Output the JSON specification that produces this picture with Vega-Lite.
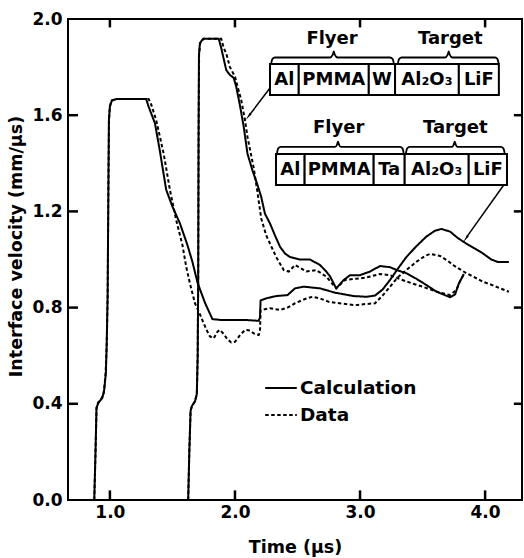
{
  "$schema": "https://vega.github.io/schema/vega-lite/v6.json",
  "width": 454,
  "height": 481,
  "autosize": {"type": "none"},
  "padding": {"left": 68, "top": 19, "right": 2, "bottom": 58},
  "config": {
    "font": "DejaVu Sans",
    "view": {"stroke": "black", "strokeWidth": 2},
    "axis": {"labelFont": "DejaVu Sans", "labelFontSize": 17, "labelFontWeight": "bold", "labelColor": "black", "domain": false, "grid": false, "titleFont": "DejaVu Sans", "titleFontSize": 17.5, "titleFontWeight": "bold", "titleColor": "black"},
    "legend": {"labelFont": "DejaVu Sans", "labelFontSize": 18.5, "labelFontWeight": "bold", "labelColor": "black"}
  },
  "datasets": {
    "curves": [
      {"s":"Ta","k":"Calculation","t":0.875,"v":0},{"s":"Ta","k":"Calculation","t":0.885,"v":0.2},{"s":"Ta","k":"Calculation","t":0.893,"v":0.385},{"s":"Ta","k":"Calculation","t":0.91,"v":0.405},{"s":"Ta","k":"Calculation","t":0.94,"v":0.425},{"s":"Ta","k":"Calculation","t":0.955,"v":0.46},{"s":"Ta","k":"Calculation","t":0.968,"v":0.53},{"s":"Ta","k":"Calculation","t":0.974,"v":0.64},{"s":"Ta","k":"Calculation","t":0.982,"v":0.85},{"s":"Ta","k":"Calculation","t":0.988,"v":1.3},{"s":"Ta","k":"Calculation","t":0.992,"v":1.58},{"s":"Ta","k":"Calculation","t":1.0,"v":1.635},{"s":"Ta","k":"Calculation","t":1.015,"v":1.66},{"s":"Ta","k":"Calculation","t":1.05,"v":1.667},{"s":"Ta","k":"Calculation","t":1.29,"v":1.667},{"s":"Ta","k":"Calculation","t":1.31,"v":1.635},{"s":"Ta","k":"Calculation","t":1.36,"v":1.567},{"s":"Ta","k":"Calculation","t":1.4,"v":1.45},{"s":"Ta","k":"Calculation","t":1.45,"v":1.29},{"s":"Ta","k":"Calculation","t":1.5,"v":1.22},{"s":"Ta","k":"Calculation","t":1.56,"v":1.15},{"s":"Ta","k":"Calculation","t":1.62,"v":1.06},{"s":"Ta","k":"Calculation","t":1.66,"v":0.99},{"s":"Ta","k":"Calculation","t":1.7,"v":0.905},{"s":"Ta","k":"Calculation","t":1.76,"v":0.82},{"s":"Ta","k":"Calculation","t":1.82,"v":0.752},{"s":"Ta","k":"Calculation","t":1.9,"v":0.748},{"s":"Ta","k":"Calculation","t":2.1,"v":0.748},{"s":"Ta","k":"Calculation","t":2.19,"v":0.745},{"s":"Ta","k":"Calculation","t":2.2,"v":0.76},{"s":"Ta","k":"Calculation","t":2.205,"v":0.83},{"s":"Ta","k":"Calculation","t":2.26,"v":0.84},{"s":"Ta","k":"Calculation","t":2.33,"v":0.848},{"s":"Ta","k":"Calculation","t":2.42,"v":0.852},{"s":"Ta","k":"Calculation","t":2.48,"v":0.88},{"s":"Ta","k":"Calculation","t":2.55,"v":0.887},{"s":"Ta","k":"Calculation","t":2.68,"v":0.88},{"s":"Ta","k":"Calculation","t":2.8,"v":0.862},{"s":"Ta","k":"Calculation","t":2.95,"v":0.848},{"s":"Ta","k":"Calculation","t":3.05,"v":0.845},{"s":"Ta","k":"Calculation","t":3.12,"v":0.85},{"s":"Ta","k":"Calculation","t":3.18,"v":0.875},{"s":"Ta","k":"Calculation","t":3.24,"v":0.915},{"s":"Ta","k":"Calculation","t":3.3,"v":0.96},{"s":"Ta","k":"Calculation","t":3.37,"v":1.01},{"s":"Ta","k":"Calculation","t":3.45,"v":1.055},{"s":"Ta","k":"Calculation","t":3.53,"v":1.095},{"s":"Ta","k":"Calculation","t":3.6,"v":1.12},{"s":"Ta","k":"Calculation","t":3.65,"v":1.127},{"s":"Ta","k":"Calculation","t":3.72,"v":1.116},{"s":"Ta","k":"Calculation","t":3.78,"v":1.09},{"s":"Ta","k":"Calculation","t":3.85,"v":1.066},{"s":"Ta","k":"Calculation","t":3.92,"v":1.045},{"s":"Ta","k":"Calculation","t":3.98,"v":1.026},{"s":"Ta","k":"Calculation","t":4.05,"v":1.0},{"s":"Ta","k":"Calculation","t":4.1,"v":0.99},{"s":"Ta","k":"Calculation","t":4.19,"v":0.99},

      {"s":"Ta","k":"Data","t":0.875,"v":0},{"s":"Ta","k":"Data","t":0.885,"v":0.2},{"s":"Ta","k":"Data","t":0.893,"v":0.38},{"s":"Ta","k":"Data","t":0.905,"v":0.405},{"s":"Ta","k":"Data","t":0.925,"v":0.415},{"s":"Ta","k":"Data","t":0.95,"v":0.44},{"s":"Ta","k":"Data","t":0.965,"v":0.52},{"s":"Ta","k":"Data","t":0.975,"v":0.65},{"s":"Ta","k":"Data","t":0.982,"v":0.85},{"s":"Ta","k":"Data","t":0.988,"v":1.3},{"s":"Ta","k":"Data","t":0.993,"v":1.58},{"s":"Ta","k":"Data","t":1.0,"v":1.64},{"s":"Ta","k":"Data","t":1.015,"v":1.662},{"s":"Ta","k":"Data","t":1.05,"v":1.667},{"s":"Ta","k":"Data","t":1.31,"v":1.667},{"s":"Ta","k":"Data","t":1.33,"v":1.645},{"s":"Ta","k":"Data","t":1.37,"v":1.58},{"s":"Ta","k":"Data","t":1.43,"v":1.44},{"s":"Ta","k":"Data","t":1.48,"v":1.289},{"s":"Ta","k":"Data","t":1.53,"v":1.164},{"s":"Ta","k":"Data","t":1.58,"v":1.06},{"s":"Ta","k":"Data","t":1.61,"v":0.97},{"s":"Ta","k":"Data","t":1.64,"v":0.9},{"s":"Ta","k":"Data","t":1.68,"v":0.818},{"s":"Ta","k":"Data","t":1.72,"v":0.772},{"s":"Ta","k":"Data","t":1.77,"v":0.71},{"s":"Ta","k":"Data","t":1.8,"v":0.68},{"s":"Ta","k":"Data","t":1.83,"v":0.672},{"s":"Ta","k":"Data","t":1.86,"v":0.7},{"s":"Ta","k":"Data","t":1.88,"v":0.707},{"s":"Ta","k":"Data","t":1.91,"v":0.69},{"s":"Ta","k":"Data","t":1.94,"v":0.668},{"s":"Ta","k":"Data","t":1.97,"v":0.655},{"s":"Ta","k":"Data","t":2.0,"v":0.658},{"s":"Ta","k":"Data","t":2.04,"v":0.685},{"s":"Ta","k":"Data","t":2.08,"v":0.707},{"s":"Ta","k":"Data","t":2.12,"v":0.705},{"s":"Ta","k":"Data","t":2.15,"v":0.693},{"s":"Ta","k":"Data","t":2.19,"v":0.686},{"s":"Ta","k":"Data","t":2.2,"v":0.7},{"s":"Ta","k":"Data","t":2.205,"v":0.79},{"s":"Ta","k":"Data","t":2.28,"v":0.797},{"s":"Ta","k":"Data","t":2.36,"v":0.79},{"s":"Ta","k":"Data","t":2.42,"v":0.8},{"s":"Ta","k":"Data","t":2.48,"v":0.818},{"s":"Ta","k":"Data","t":2.57,"v":0.838},{"s":"Ta","k":"Data","t":2.62,"v":0.845},{"s":"Ta","k":"Data","t":2.68,"v":0.838},{"s":"Ta","k":"Data","t":2.75,"v":0.824},{"s":"Ta","k":"Data","t":2.85,"v":0.817},{"s":"Ta","k":"Data","t":2.96,"v":0.81},{"s":"Ta","k":"Data","t":3.05,"v":0.815},{"s":"Ta","k":"Data","t":3.12,"v":0.818},{"s":"Ta","k":"Data","t":3.18,"v":0.85},{"s":"Ta","k":"Data","t":3.24,"v":0.887},{"s":"Ta","k":"Data","t":3.3,"v":0.925},{"s":"Ta","k":"Data","t":3.37,"v":0.956},{"s":"Ta","k":"Data","t":3.45,"v":0.99},{"s":"Ta","k":"Data","t":3.52,"v":1.015},{"s":"Ta","k":"Data","t":3.56,"v":1.023},{"s":"Ta","k":"Data","t":3.64,"v":1.015},{"s":"Ta","k":"Data","t":3.7,"v":0.995},{"s":"Ta","k":"Data","t":3.75,"v":0.975},{"s":"Ta","k":"Data","t":3.85,"v":0.943},{"s":"Ta","k":"Data","t":3.92,"v":0.925},{"s":"Ta","k":"Data","t":3.98,"v":0.908},{"s":"Ta","k":"Data","t":4.05,"v":0.895},{"s":"Ta","k":"Data","t":4.12,"v":0.88},{"s":"Ta","k":"Data","t":4.19,"v":0.866},

      {"s":"W","k":"Calculation","t":1.626,"v":0},{"s":"W","k":"Calculation","t":1.635,"v":0.2},{"s":"W","k":"Calculation","t":1.645,"v":0.37},{"s":"W","k":"Calculation","t":1.655,"v":0.39},{"s":"W","k":"Calculation","t":1.68,"v":0.41},{"s":"W","k":"Calculation","t":1.695,"v":0.44},{"s":"W","k":"Calculation","t":1.702,"v":0.6},{"s":"W","k":"Calculation","t":1.706,"v":0.915},{"s":"W","k":"Calculation","t":1.709,"v":1.5},{"s":"W","k":"Calculation","t":1.712,"v":1.85},{"s":"W","k":"Calculation","t":1.72,"v":1.9},{"s":"W","k":"Calculation","t":1.746,"v":1.918},{"s":"W","k":"Calculation","t":1.87,"v":1.918},{"s":"W","k":"Calculation","t":1.89,"v":1.88},{"s":"W","k":"Calculation","t":1.906,"v":1.843},{"s":"W","k":"Calculation","t":1.93,"v":1.788},{"s":"W","k":"Calculation","t":1.96,"v":1.767},{"s":"W","k":"Calculation","t":1.99,"v":1.755},{"s":"W","k":"Calculation","t":2.01,"v":1.719},{"s":"W","k":"Calculation","t":2.04,"v":1.64},{"s":"W","k":"Calculation","t":2.07,"v":1.552},{"s":"W","k":"Calculation","t":2.1,"v":1.44},{"s":"W","k":"Calculation","t":2.14,"v":1.37},{"s":"W","k":"Calculation","t":2.18,"v":1.31},{"s":"W","k":"Calculation","t":2.21,"v":1.26},{"s":"W","k":"Calculation","t":2.24,"v":1.19},{"s":"W","k":"Calculation","t":2.28,"v":1.15},{"s":"W","k":"Calculation","t":2.32,"v":1.1},{"s":"W","k":"Calculation","t":2.36,"v":1.053},{"s":"W","k":"Calculation","t":2.4,"v":1.025},{"s":"W","k":"Calculation","t":2.44,"v":1.01},{"s":"W","k":"Calculation","t":2.52,"v":1.0},{"s":"W","k":"Calculation","t":2.6,"v":1.0},{"s":"W","k":"Calculation","t":2.68,"v":0.977},{"s":"W","k":"Calculation","t":2.73,"v":0.95},{"s":"W","k":"Calculation","t":2.76,"v":0.93},{"s":"W","k":"Calculation","t":2.81,"v":0.88},{"s":"W","k":"Calculation","t":2.87,"v":0.915},{"s":"W","k":"Calculation","t":2.92,"v":0.935},{"s":"W","k":"Calculation","t":3.0,"v":0.935},{"s":"W","k":"Calculation","t":3.08,"v":0.95},{"s":"W","k":"Calculation","t":3.16,"v":0.973},{"s":"W","k":"Calculation","t":3.24,"v":0.968},{"s":"W","k":"Calculation","t":3.3,"v":0.955},{"s":"W","k":"Calculation","t":3.37,"v":0.943},{"s":"W","k":"Calculation","t":3.45,"v":0.92},{"s":"W","k":"Calculation","t":3.53,"v":0.894},{"s":"W","k":"Calculation","t":3.6,"v":0.87},{"s":"W","k":"Calculation","t":3.64,"v":0.86},{"s":"W","k":"Calculation","t":3.72,"v":0.843},{"s":"W","k":"Calculation","t":3.76,"v":0.855},{"s":"W","k":"Calculation","t":3.79,"v":0.9},{"s":"W","k":"Calculation","t":3.83,"v":0.94},

      {"s":"W","k":"Data","t":1.626,"v":0},{"s":"W","k":"Data","t":1.635,"v":0.2},{"s":"W","k":"Data","t":1.645,"v":0.37},{"s":"W","k":"Data","t":1.655,"v":0.39},{"s":"W","k":"Data","t":1.68,"v":0.41},{"s":"W","k":"Data","t":1.695,"v":0.44},{"s":"W","k":"Data","t":1.702,"v":0.6},{"s":"W","k":"Data","t":1.706,"v":0.915},{"s":"W","k":"Data","t":1.709,"v":1.5},{"s":"W","k":"Data","t":1.713,"v":1.85},{"s":"W","k":"Data","t":1.722,"v":1.9},{"s":"W","k":"Data","t":1.75,"v":1.918},{"s":"W","k":"Data","t":1.89,"v":1.918},{"s":"W","k":"Data","t":1.91,"v":1.88},{"s":"W","k":"Data","t":1.93,"v":1.857},{"s":"W","k":"Data","t":1.96,"v":1.8},{"s":"W","k":"Data","t":2.0,"v":1.76},{"s":"W","k":"Data","t":2.05,"v":1.663},{"s":"W","k":"Data","t":2.08,"v":1.58},{"s":"W","k":"Data","t":2.1,"v":1.51},{"s":"W","k":"Data","t":2.15,"v":1.38},{"s":"W","k":"Data","t":2.18,"v":1.28},{"s":"W","k":"Data","t":2.21,"v":1.17},{"s":"W","k":"Data","t":2.25,"v":1.1},{"s":"W","k":"Data","t":2.33,"v":1.01},{"s":"W","k":"Data","t":2.39,"v":0.956},{"s":"W","k":"Data","t":2.43,"v":0.95},{"s":"W","k":"Data","t":2.48,"v":0.977},{"s":"W","k":"Data","t":2.52,"v":0.965},{"s":"W","k":"Data","t":2.57,"v":0.95},{"s":"W","k":"Data","t":2.65,"v":0.956},{"s":"W","k":"Data","t":2.73,"v":0.929},{"s":"W","k":"Data","t":2.81,"v":0.88},{"s":"W","k":"Data","t":2.88,"v":0.915},{"s":"W","k":"Data","t":2.97,"v":0.92},{"s":"W","k":"Data","t":3.05,"v":0.925},{"s":"W","k":"Data","t":3.16,"v":0.94},{"s":"W","k":"Data","t":3.24,"v":0.935},{"s":"W","k":"Data","t":3.32,"v":0.918},{"s":"W","k":"Data","t":3.42,"v":0.9},{"s":"W","k":"Data","t":3.5,"v":0.887},{"s":"W","k":"Data","t":3.62,"v":0.865},{"s":"W","k":"Data","t":3.72,"v":0.852},{"s":"W","k":"Data","t":3.77,"v":0.873},{"s":"W","k":"Data","t":3.8,"v":0.91},{"s":"W","k":"Data","t":3.83,"v":0.938}
    ],
    "boxes": [
      {"t":2.28,"t2":2.51,"v":1.684,"v2":1.813},{"t":2.51,"t2":3.07,"v":1.684,"v2":1.813},{"t":3.07,"t2":3.28,"v":1.684,"v2":1.813},{"t":3.28,"t2":3.79,"v":1.684,"v2":1.813},{"t":3.79,"t2":4.11,"v":1.684,"v2":1.813},
      {"t":2.328,"t2":2.557,"v":1.31,"v2":1.439},{"t":2.557,"t2":3.109,"v":1.31,"v2":1.439},{"t":3.109,"t2":3.357,"v":1.31,"v2":1.439},{"t":3.357,"t2":3.869,"v":1.31,"v2":1.439},{"t":3.869,"t2":4.175,"v":1.31,"v2":1.439}
    ],
    "labels": [
      {"label":"Al","t":2.395,"v":1.748},{"label":"PMMA","t":2.79,"v":1.748},{"label":"W","t":3.175,"v":1.748},{"label":"Al₂O₃","t":3.535,"v":1.748},{"label":"LiF","t":3.95,"v":1.748},
      {"label":"Flyer","t":2.776,"v":1.916},{"label":"Target","t":3.722,"v":1.916},
      {"label":"Al","t":2.443,"v":1.374},{"label":"PMMA","t":2.833,"v":1.374},{"label":"Ta","t":3.233,"v":1.374},{"label":"Al₂O₃","t":3.613,"v":1.374},{"label":"LiF","t":4.022,"v":1.374},
      {"label":"Flyer","t":2.829,"v":1.547},{"label":"Target","t":3.762,"v":1.547}
    ],
    "braces": [
      {"b":"1","t":2.29,"v":1.817},{"b":"1","t":2.30,"v":1.834},{"b":"1","t":2.32,"v":1.84},{"b":"1","t":2.76,"v":1.84},{"b":"1","t":2.782,"v":1.852},{"b":"1","t":2.79,"v":1.865},{"b":"1","t":2.798,"v":1.852},{"b":"1","t":2.82,"v":1.84},{"b":"1","t":3.24,"v":1.84},{"b":"1","t":3.26,"v":1.834},{"b":"1","t":3.27,"v":1.817},
      {"b":"2","t":3.303,"v":1.817},{"b":"2","t":3.313,"v":1.834},{"b":"2","t":3.333,"v":1.84},{"b":"2","t":3.68,"v":1.84},{"b":"2","t":3.701,"v":1.852},{"b":"2","t":3.709,"v":1.865},{"b":"2","t":3.717,"v":1.852},{"b":"2","t":3.738,"v":1.84},{"b":"2","t":4.08,"v":1.84},{"b":"2","t":4.098,"v":1.834},{"b":"2","t":4.108,"v":1.817},
      {"b":"3","t":2.336,"v":1.443},{"b":"3","t":2.346,"v":1.462},{"b":"3","t":2.366,"v":1.468},{"b":"3","t":2.80,"v":1.468},{"b":"3","t":2.816,"v":1.478},{"b":"3","t":2.824,"v":1.49},{"b":"3","t":2.832,"v":1.478},{"b":"3","t":2.848,"v":1.468},{"b":"3","t":3.32,"v":1.468},{"b":"3","t":3.339,"v":1.462},{"b":"3","t":3.349,"v":1.443},
      {"b":"4","t":3.367,"v":1.443},{"b":"4","t":3.377,"v":1.462},{"b":"4","t":3.397,"v":1.468},{"b":"4","t":3.737,"v":1.468},{"b":"4","t":3.749,"v":1.478},{"b":"4","t":3.757,"v":1.49},{"b":"4","t":3.765,"v":1.478},{"b":"4","t":3.777,"v":1.468},{"b":"4","t":4.126,"v":1.468},{"b":"4","t":4.146,"v":1.462},{"b":"4","t":4.156,"v":1.443}
    ],
    "arrows": [
      {"a":"W","t":2.115,"v":1.6},{"a":"W","t":2.28,"v":1.713},
      {"a":"Ta","t":3.855,"v":1.095},{"a":"Ta","t":4.149,"v":1.31}
    ],
    "heads": [
      {"a":"W","t":2.112,"v":1.598,"ang":217},
      {"a":"Ta","t":3.85,"v":1.09,"ang":215}
    ],
    "xticks": [{"t":1},{"t":2},{"t":3},{"t":4}],
    "yticks": [{"v":0.4},{"v":0.8},{"v":1.2},{"v":1.6}]
  },
  "layer": [
    {
      "data": {"name": "xticks"},
      "mark": {"type": "rule", "color": "black", "strokeWidth": 2.5},
      "encoding": {
        "x": {"field": "t", "type": "quantitative", "scale": {"domain": [0.665, 4.295], "nice": false, "zero": false},
              "axis": {"orient": "bottom", "values": [1, 2, 3, 4], "format": ".1f", "ticks": false, "labelPadding": 4, "title": "Time (μs)", "titleX": 227, "titleY": 52, "titleBaseline": "alphabetic", "titleAlign": "center"}},
        "y": {"datum": 0, "type": "quantitative", "scale": {"domain": [0, 2], "nice": false, "zero": false},
              "axis": {"orient": "left", "values": [0, 0.4, 0.8, 1.2, 1.6, 2.0], "format": ".1f", "ticks": false, "labelPadding": 6, "title": "Interface velocity (mm/μs)", "titleX": -52, "titleY": 227, "titleAngle": 270, "titleBaseline": "middle", "titleAlign": "center"}},
        "y2": {"datum": 0.04}
      }
    },
    {
      "data": {"name": "xticks"},
      "mark": {"type": "rule", "color": "black", "strokeWidth": 2.5},
      "encoding": {
        "x": {"field": "t", "type": "quantitative"},
        "y": {"datum": 2, "type": "quantitative"},
        "y2": {"datum": 1.965}
      }
    },
    {
      "data": {"name": "yticks"},
      "mark": {"type": "rule", "color": "black", "strokeWidth": 2.5},
      "encoding": {
        "y": {"field": "v", "type": "quantitative"},
        "x": {"datum": 0.665, "type": "quantitative"},
        "x2": {"datum": 0.745}
      }
    },
    {
      "data": {"name": "yticks"},
      "mark": {"type": "rule", "color": "black", "strokeWidth": 2.5},
      "encoding": {
        "y": {"field": "v", "type": "quantitative"},
        "x": {"datum": 4.295, "type": "quantitative"},
        "x2": {"datum": 4.23}
      }
    },
    {
      "data": {"name": "curves"},
      "mark": {"type": "line", "color": "black", "strokeWidth": 2},
      "encoding": {
        "x": {"field": "t", "type": "quantitative"},
        "y": {"field": "v", "type": "quantitative"},
        "detail": {"field": "s", "type": "nominal"},
        "strokeDash": {"field": "k", "type": "nominal", "title": null,
          "scale": {"domain": ["Calculation", "Data"], "range": [[1, 0], [3.5, 2.5]]},
          "legend": {"orient": "none", "legendX": 196, "legendY": 352, "symbolType": "stroke", "symbolSize": 1000, "symbolStrokeWidth": 2, "symbolStrokeColor": "black", "labelOffset": 2, "rowPadding": -14, "padding": 0}}
      }
    },
    {
      "data": {"name": "boxes"},
      "mark": {"type": "rect", "fill": "white", "stroke": "black", "strokeWidth": 2},
      "encoding": {
        "x": {"field": "t", "type": "quantitative"},
        "x2": {"field": "t2"},
        "y": {"field": "v", "type": "quantitative"},
        "y2": {"field": "v2"}
      }
    },
    {
      "data": {"name": "labels"},
      "mark": {"type": "text", "font": "DejaVu Sans", "fontSize": 18, "fontWeight": "bold", "color": "black", "align": "center", "baseline": "middle"},
      "encoding": {
        "x": {"field": "t", "type": "quantitative"},
        "y": {"field": "v", "type": "quantitative"},
        "text": {"field": "label"}
      }
    },
    {
      "data": {"name": "braces"},
      "mark": {"type": "line", "color": "black", "strokeWidth": 1.8, "interpolate": "monotone"},
      "encoding": {
        "x": {"field": "t", "type": "quantitative"},
        "y": {"field": "v", "type": "quantitative"},
        "detail": {"field": "b", "type": "nominal"}
      }
    },
    {
      "data": {"name": "arrows"},
      "mark": {"type": "line", "color": "black", "strokeWidth": 1.5},
      "encoding": {
        "x": {"field": "t", "type": "quantitative"},
        "y": {"field": "v", "type": "quantitative"},
        "detail": {"field": "a", "type": "nominal"}
      }
    },
    {
      "data": {"name": "heads"},
      "mark": {"type": "point", "shape": "wedge", "filled": true, "color": "black", "size": 90, "opacity": 1},
      "encoding": {
        "x": {"field": "t", "type": "quantitative"},
        "y": {"field": "v", "type": "quantitative"},
        "angle": {"field": "ang", "type": "quantitative", "scale": null}
      }
    }
  ]
}
